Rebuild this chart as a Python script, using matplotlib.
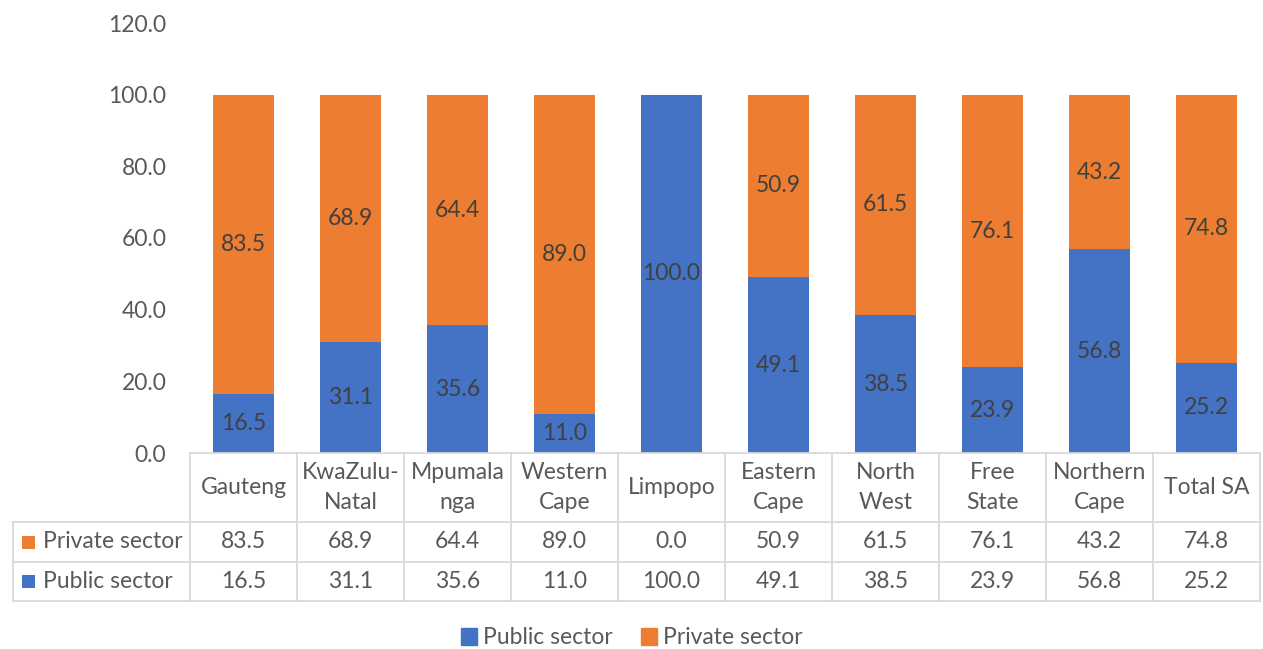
import matplotlib.pyplot as plt
from matplotlib.transforms import blended_transform_factory
from matplotlib.patches import Patch, Rectangle
from matplotlib.lines import Line2D

plt.rcParams['font.family'] = ['Lato', 'DejaVu Sans']

provinces = ['Gauteng', 'KwaZulu-\nNatal', 'Mpumala\nnga', 'Western\nCape', 'Limpopo',
             'Eastern\nCape', 'North\nWest', 'Free\nState', 'Northern\nCape', 'Total SA']
public = [16.5, 31.1, 35.6, 11.0, 100.0, 49.1, 38.5, 23.9, 56.8, 25.2]
private = [83.5, 68.9, 64.4, 89.0, 0.0, 50.9, 61.5, 76.1, 43.2, 74.8]
yticks = [0, 20, 40, 60, 80, 100, 120]

blue = '#4472C4'
orange = '#ED7D31'
grey = '#595959'
dark = '#404040'
line_c = '#D9D9D9'
fs = 16.5

W, H = 1263, 649
fig = plt.figure(figsize=(W / 100, H / 100), dpi=100)
ax = fig.add_axes([190 / W, 1 - 453 / H, 1070 / W, (453 - 23) / H])

x = range(len(provinces))
ax.bar(x, public, width=0.57, color=blue)
ax.bar(x, private, width=0.57, bottom=public, color=orange)
for i in x:
    if public[i] > 0:
        ax.text(i, public[i] / 2, f'{public[i]:.1f}', ha='center', va='center', fontsize=fs, color=dark)
    if private[i] > 0:
        ax.text(i, public[i] + private[i] / 2, f'{private[i]:.1f}', ha='center', va='center', fontsize=fs, color=dark)

ax.set_xlim(-0.5, len(provinces) - 0.5)
ax.set_ylim(0, 120)
ax.set_yticks(yticks)
ax.set_yticklabels([f'{v:.1f}' for v in yticks], fontsize=fs, color=grey)
ax.tick_params(axis='y', length=0, pad=17)
ax.set_xticks([])
for s in ax.spines.values():
    s.set_visible(False)

# data table below the axes
tr = blended_transform_factory(ax.transData, fig.transFigure)
y_top = 1 - 453 / H
y_hdr = 1 - 522 / H
y_mid = 1 - 562 / H
y_bot = 1 - 601 / H
n = len(provinces)
left_fig = 13 / W
lkw = dict(color=line_c, lw=1.3)
fig.add_artist(Line2D([-0.5, n - 0.5], [y_top, y_top], transform=tr, **lkw))
fig.add_artist(Line2D([left_fig, 1259.5 / W], [y_hdr, y_hdr], transform=fig.transFigure, **lkw))
fig.add_artist(Line2D([left_fig, 1259.5 / W], [y_mid, y_mid], transform=fig.transFigure, **lkw))
fig.add_artist(Line2D([left_fig, 1259.5 / W], [y_bot, y_bot], transform=fig.transFigure, **lkw))
fig.add_artist(Line2D([left_fig, left_fig], [y_hdr, y_bot], transform=fig.transFigure, **lkw))
for i in range(n + 1):
    fig.add_artist(Line2D([i - 0.5, i - 0.5], [y_top, y_bot], transform=tr, **lkw))

for i, name in enumerate(provinces):
    fig.text(i, (y_top + y_hdr) / 2, name, transform=tr, ha='center', va='center',
             fontsize=fs, color=grey, linespacing=1.55)
    fig.text(i, (y_hdr + y_mid) / 2, f'{private[i]:.1f}', transform=tr, ha='center', va='center',
             fontsize=fs, color=grey)
    fig.text(i, (y_mid + y_bot) / 2, f'{public[i]:.1f}', transform=tr, ha='center', va='center',
             fontsize=fs, color=grey)

for y0, y1, lab, col in [(y_hdr, y_mid, 'Private sector', orange), (y_mid, y_bot, 'Public sector', blue)]:
    yc = (y0 + y1) / 2
    fig.add_artist(Rectangle((22 / W, yc - 6.5 / H), 13 / W, 13 / H, transform=fig.transFigure,
                             color=col, lw=0))
    fig.text(43 / W, yc, lab, ha='left', va='center', fontsize=fs, color=grey)

handles = [Patch(color=blue, label='Public sector'), Patch(color=orange, label='Private sector')]
fig.legend(handles=handles, loc='center', bbox_to_anchor=(632 / W, 1 - 638 / H), ncol=2,
           frameon=False, fontsize=fs, labelcolor=grey, handlelength=0.7, handleheight=0.7,
           handletextpad=0.25, columnspacing=1.25)

fig.savefig('out.png', dpi=100)
